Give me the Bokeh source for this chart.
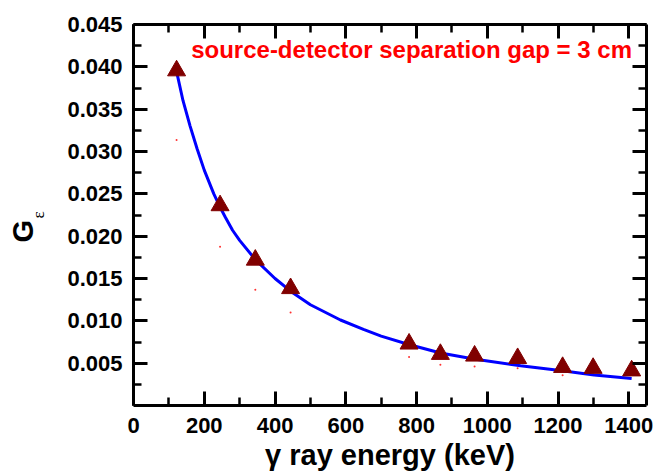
from bokeh.plotting import figure
from bokeh.models import (Range1d, LinearAxis, FixedTicker, SingleIntervalTicker,
                          NumeralTickFormatter, Label, CustomLabelingPolicy)
from bokeh.embed import file_html
from bokeh.resources import INLINE

# measured data (gamma ray energy in keV, G_epsilon)
energy = [121.8, 244.7, 344.3, 444.0, 778.9, 867.4, 964.1, 1085.8, 1212.9, 1299.1, 1408.0]
g_eps = [0.03955, 0.02362, 0.01719, 0.01383, 0.00728, 0.00606, 0.00586, 0.00557, 0.00452, 0.00441, 0.00411]

# small red points below markers
dot_energy = [121.8, 244.7, 344.3, 444.0, 778.9, 867.4, 964.1, 1085.8, 1212.9]
dot_g = [0.03136, 0.01875, 0.01366, 0.01098, 0.00574, 0.00480, 0.00460, 0.00440, 0.00358]

# fitted curve
fit_energy = [122, 140, 160, 180, 200, 227, 245, 260, 280, 300, 345, 400, 444, 500, 585, 650, 700, 778, 868, 962, 1094, 1212, 1302, 1408]
fit_g = [0.0394, 0.0360, 0.0330, 0.0303, 0.0278, 0.0250, 0.0234, 0.0222, 0.0207, 0.0195, 0.0172, 0.0150, 0.0135, 0.0119, 0.0101, 0.0090, 0.0082, 0.0072, 0.0062, 0.0055, 0.0047, 0.0041, 0.0036, 0.0032]

y_ticks = [0.005, 0.010, 0.015, 0.020, 0.025, 0.030, 0.035, 0.040, 0.045]
y_minor = [0.0025, 0.0075, 0.0125, 0.0175, 0.0225, 0.0275, 0.0325, 0.0375, 0.0425]

title_text = "source-detector separation gap = 3 cm"
x_title = "γ ray energy (keV)"
y_title = "G"
y_sub = "ε"

FONT = "Liberation Sans"

p = figure(width=656, height=473, x_range=Range1d(0, 1450), y_range=Range1d(0, 0.045),
           output_backend="svg", toolbar_location=None,
           x_axis_location=None, y_axis_location=None,
           min_border_left=133, min_border_right=10, min_border_top=24, min_border_bottom=68)
p.xgrid.visible = False
p.ygrid.visible = False
p.outline_line_color = None
p.background_fill_color = "white"
p.border_fill_color = "white"

xt = SingleIntervalTicker(interval=200, num_minor_ticks=2)
yt = FixedTicker(ticks=y_ticks, minor_ticks=y_minor)

bottom = LinearAxis(ticker=xt)
left = LinearAxis(ticker=yt, formatter=NumeralTickFormatter(format="0.000"))
top = LinearAxis(ticker=xt)
right = LinearAxis(ticker=yt)
p.add_layout(bottom, "below")
p.add_layout(left, "left")
p.add_layout(top, "above")
p.add_layout(right, "right")

for ax in [bottom, left, top, right]:
    ax.axis_line_width = 3
    ax.axis_line_color = "black"
    ax.major_tick_in = 14
    ax.major_tick_out = 0
    ax.minor_tick_in = 8
    ax.minor_tick_out = 0
    ax.major_tick_line_width = 3
    ax.minor_tick_line_width = 2.5
    ax.major_tick_line_color = "black"
    ax.minor_tick_line_color = "black"
    ax.major_label_text_font = FONT
    ax.major_label_text_font_style = "bold"
    ax.major_label_text_font_size = "22px"
    ax.major_label_text_color = "black"

bottom.major_label_standoff = 12
left.major_label_standoff = 11
no_labels = "for (const i of Array.from(indices)) { indices.unset(i) }; return indices"
for ax in [top, right]:
    ax.major_label_text_font_size = "0px"
    ax.major_label_standoff = 0
    ax.major_label_policy = CustomLabelingPolicy(code=no_labels)

# x axis title
bottom.axis_label = x_title
bottom.axis_label_text_font = FONT
bottom.axis_label_text_font_style = "bold"
bottom.axis_label_text_font_size = "29px"
bottom.axis_label_text_color = "black"
bottom.axis_label_standoff = 3

# subscript epsilon as label of the main y axis
left.axis_label = y_sub
left.axis_label_text_font = "Liberation Serif"
left.axis_label_text_font_style = "normal"
left.axis_label_text_font_size = "17px"
left.axis_label_text_color = "black"
left.axis_label_standoff = 16

# "G" on an extra label-only axis further left (non-breaking spaces move it down)
gax = LinearAxis(ticker=FixedTicker(ticks=[]))
gax.axis_line_color = None
gax.major_tick_line_color = None
gax.minor_tick_line_color = None
gax.major_tick_out = 0
gax.minor_tick_out = 0
gax.major_label_text_font_size = "0px"
gax.major_label_standoff = 0
gax.axis_label = y_title + "\u00a0\u00a0\u00a0\u00a0"
gax.axis_label_text_font = FONT
gax.axis_label_text_font_style = "bold"
gax.axis_label_text_font_size = "29px"
gax.axis_label_text_color = "black"
gax.axis_label_standoff = -12
p.add_layout(gax, "left")

p.line(fit_energy, fit_g, line_color="#0000FF", line_width=3)
p.scatter(dot_energy, dot_g, marker="circle", size=2, fill_color="#FF3030", line_color=None)
p.scatter(energy, g_eps, marker="triangle", size=18, fill_color="#800000", line_color="#800000")

p.add_layout(Label(x=786, y=0.0421, text=title_text, text_align="center",
                   text_baseline="alphabetic", text_font=FONT, text_font_style="bold",
                   text_font_size="24px", text_color="#FF0000"))

open("out.html", "w").write(file_html(p, INLINE))
